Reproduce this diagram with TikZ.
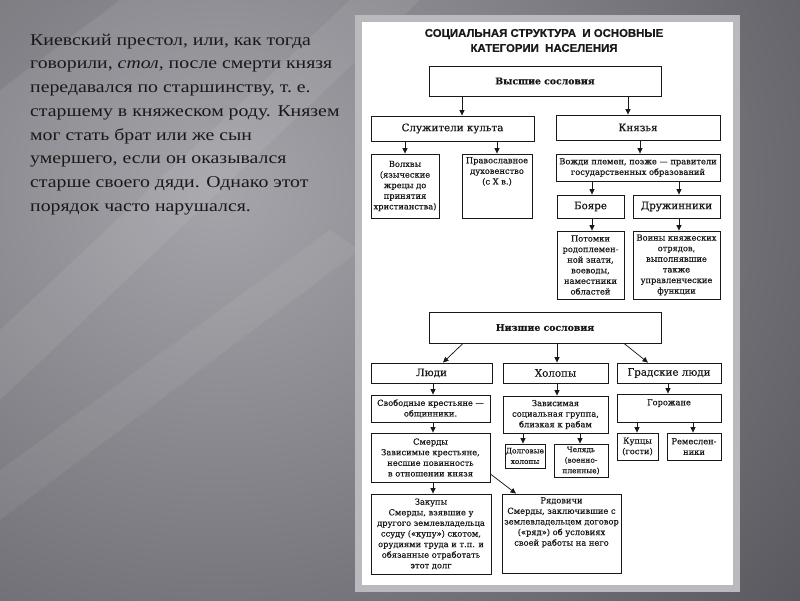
\documentclass[tikz,border=0pt]{standalone}
\usepackage{fontspec}
\setmainfont{Liberation Serif}
\newfontfamily\leftfont[FakeStretch=1.2]{Liberation Serif}
\newfontfamily\boxfont[FakeBold=0.45]{DejaVu Serif}
\newfontfamily\titlefont[FakeBold=0.6]{Liberation Sans}
\usetikzlibrary{arrows.meta}
\definecolor{bgdark}{RGB}{84,84,90}
\definecolor{bglight}{RGB}{165,165,171}
\definecolor{framegray}{RGB}{186,186,190}
\definecolor{ink}{RGB}{25,25,25}
\newcommand\mkbox[7][]{\node[box,#1,minimum width={(#5-#3)*1pt},minimum height={(#6-#4)*1pt}] (#2) at ({(#3+#5)/2},{(#4+#6)/2}) {#7};}
\tikzset{
  box/.style={draw=ink, line width=0.85pt, fill=white, inner sep=1pt, align=center, text=ink,
    font=\boxfont\fontsize{8.3}{10.6}\selectfont},
  lbl/.style={font=\boxfont\fontsize{10.3}{12}\selectfont},
  bold/.style={font=\boxfont\bfseries\fontsize{9.3}{11}\selectfont},
  tiny/.style={font=\boxfont\fontsize{7.4}{10.6}\selectfont},
  txt/.style={inner sep=0pt, align=center, text=ink, font=\boxfont\fontsize{8.3}{10.6}\selectfont},
  arr/.style={-{Triangle[length=5.5pt,width=5pt]}, line width=0.75pt, draw=ink}
}
\begin{document}
\begin{tikzpicture}[x=1pt,y=-1pt]
\useasboundingbox (0,0) rectangle (800,600);
% background
\fill[bgdark] (0,0) rectangle (800,600);
\begin{scope}
\clip (0,0) rectangle (800,600);
\shade[inner color=bglight, outer color=bgdark] (-560,-520) rectangle (1000,900);
\fill[white, opacity=0.07] (0,330) -- (350,0) -- (420,0) -- (0,400) -- cycle;
\fill[white, opacity=0.06] (0,470) -- (330,230) -- (360,250) -- (0,520) -- cycle;
\fill[black, opacity=0.06] (0,0) -- (120,0) -- (0,90) -- cycle;
\end{scope}
% panel
\fill[framegray] (355,15) rectangle (740,592);
\fill[white] (362,22) rectangle (733,585);
% left text
\node[anchor=north west, inner sep=0pt, align=left, text=ink,
  font=\leftfont\fontsize{16.5}{23.8}\selectfont] (intro) at (30,33.5)
  {Киевский престол, или, как тогда\\
   говорили, \textit{стол,} после смерти князя\\
   передавался по старшинству, т.~е.\\
   старшему в княжеском роду. Князем\\
   мог стать брат или же сын\\
   умершего, если он оказывался\\
   старше своего дяди. Однако этот\\
   порядок часто нарушался.};
% title
\node[font=\titlefont\bfseries\fontsize{11.4}{15}\selectfont, text=ink, align=center] (title) at (544,40.5)
  {СОЦИАЛЬНАЯ СТРУКТУРА\ \ И ОСНОВНЫЕ\\КАТЕГОРИИ\ \ НАСЕЛЕНИЯ};
% upper estates
\mkbox[bold]{vys}{429}{66}{661}{96}{Высшие сословия}
\mkbox[lbl]{sluz}{371}{116}{534}{141}{Служители культа}
\mkbox[lbl]{kn}{556}{115}{720}{140}{Князья}
\mkbox{volh}{371}{154}{439}{218}{Волхвы\\(языческие\\жрецы до\\принятия\\христианства)}
\mkbox{prav}{462}{154}{532}{218}{}
\node[txt, anchor=north] (prav-t) at (497,157) {Православное\\духовенство\\(с X в.)};
\mkbox{vozhd}{556}{154}{720}{181}{Вожди племен, позже — правители\\государственных образований}
\mkbox[lbl]{boy}{557}{195}{624}{218}{Бояре}
\mkbox[lbl]{druzh}{633}{195}{720}{218}{Дружинники}
\mkbox{pot}{557}{231}{624}{299}{Потомки\\родоплемен-\\ной знати,\\воеводы,\\наместники\\областей}
\mkbox{voin}{633}{231}{720}{299}{Воины княжеских\\отрядов,\\выполнявшие\\также\\управленческие\\функции}
% lower estates
\mkbox[bold]{niz}{429}{312}{661}{343}{Низшие сословия}
\mkbox[lbl]{ludi}{371}{363}{492}{383}{Люди}
\mkbox[lbl]{hol}{503}{363}{608}{383}{Холопы}
\mkbox[lbl]{grad}{617}{363}{721}{383}{Градские люди}
\mkbox{svob}{371}{395}{490}{422}{Свободные крестьяне —\\общинники.}
\mkbox{zav}{503}{396}{608}{433}{Зависимая\\социальная группа,\\близкая к рабам}
\mkbox{gor}{617}{394}{721}{422}{}
\node[txt, anchor=north] (gor-t) at (669,399) {Горожане};
\mkbox{smerd}{371}{433}{490}{482}{Смерды\\Зависимые крестьяне,\\несшие повинность\\в отношении князя}
\mkbox[tiny]{dolg}{505}{444}{545}{468}{Долговые\\холопы}
\mkbox[tiny]{chel}{554}{444}{608}{477}{Челядь\\(военно-\\пленные)}
\mkbox{kup}{617}{433}{658}{460}{Купцы\\(гости)}
\mkbox{rem}{667}{433}{721}{460}{Ремеслен-\\ники}
\mkbox{zak}{371}{494}{491}{574}{Закупы\\Смерды, взявшие у\\другого землевладельца\\ссуду («купу») скотом,\\орудиями труда и т.п. и\\обязанные отработать\\этот долг}
\mkbox{ryad}{502}{494}{621}{573}{}
\node[txt, anchor=north] (ryad-t) at (561.5,497) {Рядовичи\\Смерды, заключившие с\\землевладельцем договор\\(«ряд») об условиях\\своей работы на него};
% arrows
\draw[arr] (vys.south -| 462,0) -- (sluz.north -| 462,0);
\draw[arr] (vys.south -| 628,0) -- (kn.north -| 628,0);
\draw[arr] (sluz.south -| volh.north) -- (volh.north);
\draw[arr] (sluz.south -| prav.north) -- (prav.north);
\draw[arr] (kn.south -| 640,0) -- (vozhd.north -| 640,0);
\draw[arr] (vozhd.south -| 592,0) -- (boy.north -| 592,0);
\draw[arr] (vozhd.south -| 679,0) -- (druzh.north -| 679,0);
\draw[arr] (boy.south -| 592,0) -- (pot.north -| 592,0);
\draw[arr] (druzh.south -| 679,0) -- (voin.north -| 679,0);
\draw[arr] (niz.south -| 463,0) -- (ludi.north -| 443,0);
\draw[arr] (niz.south -| 557,0) -- (hol.north -| 557,0);
\draw[arr] (niz.south -| 624,0) -- (grad.north -| 648,0);
\draw[arr] (ludi.south -| 433,0) -- (svob.north -| 433,0);
\draw[arr] (hol.south -| 557,0) -- (zav.north -| 557,0);
\draw[arr] (grad.south -| 668,0) -- (gor.north -| 668,0);
\draw[arr] (svob.south -| 433,0) -- (smerd.north -| 433,0);
\draw[arr] (zav.south -| 523,0) -- (dolg.north -| 523,0);
\draw[arr] (zav.south -| 580,0) -- (chel.north -| 580,0);
\draw[arr] (gor.south -| 637,0) -- (kup.north -| 637,0);
\draw[arr] (gor.south -| 693,0) -- (rem.north -| 693,0);
\draw[arr] (smerd.south -| 433,0) -- (zak.north -| 433,0);
\draw[arr] (smerd.east |- 0,474) -- (ryad.north -| 516,0);
\end{tikzpicture}
\end{document}
